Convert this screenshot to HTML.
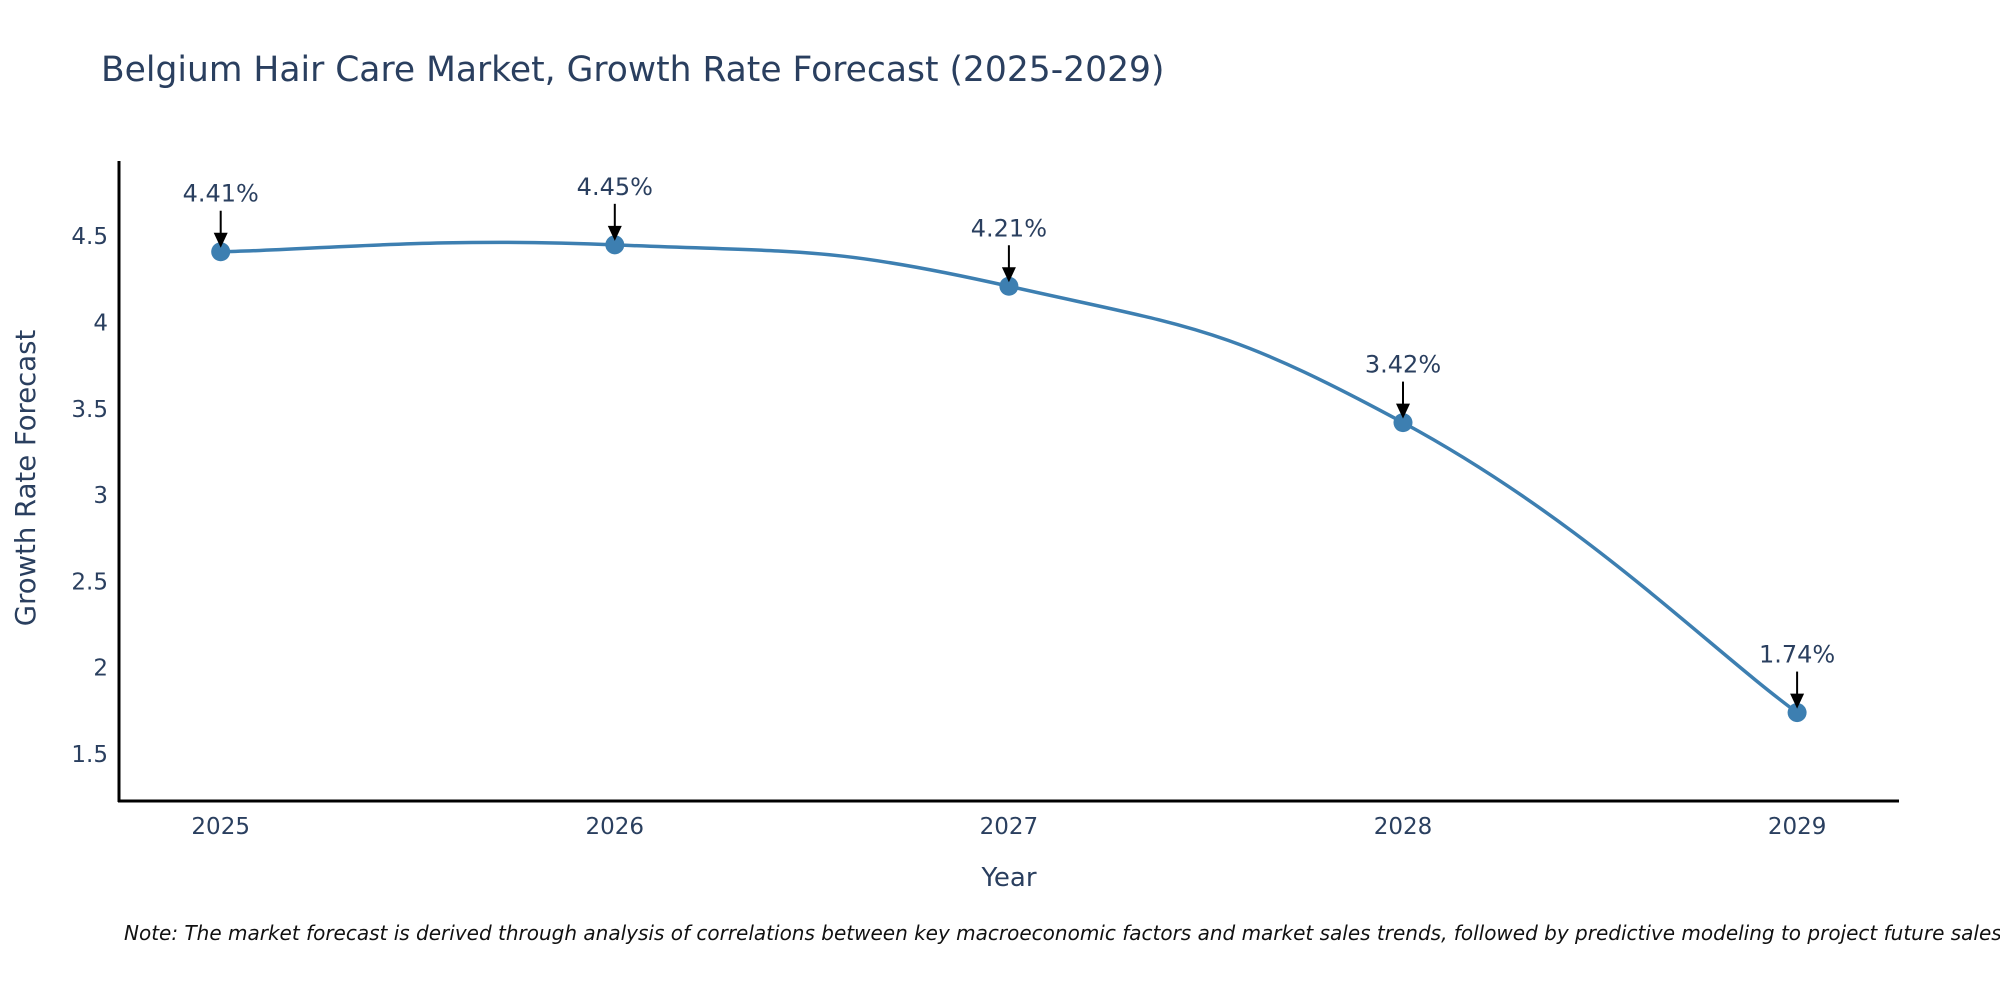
<!DOCTYPE html>
<html><head><meta charset="utf-8"><style>
html,body{margin:0;padding:0;background:#fff;}
svg{display:block;font-family:"DejaVu Sans","Liberation Sans",sans-serif;}
</style></head><body>
<svg id="chart" width="2000" height="1000" viewBox="0 0 2000 1000">
<text x="101" y="81" font-size="34.5" fill="#2a3f5f">Belgium Hair Care Market, Growth Rate Forecast (2025-2029)</text>
<g id="yticks"></g><g id="xticks"></g>
<line x1="119" y1="161" x2="119" y2="802" stroke="#000" stroke-width="3"/>
<line x1="118" y1="801" x2="1899" y2="801" stroke="#000" stroke-width="3"/>
<text transform="translate(35,478) rotate(-90)" text-anchor="middle" font-size="27.5" fill="#2a3f5f">Growth Rate Forecast</text>
<text x="1009" y="886" text-anchor="middle" font-size="26" fill="#2a3f5f">Year</text>
<g id="series"></g>
<text x="124" y="940" font-size="20" font-style="italic" fill="#111">Note: The market forecast is derived through analysis of correlations between key macroeconomic factors and market sales trends, followed by predictive modeling to project future sales.</text>
</svg>
<script>
const categories = ["2025","2026","2027","2028","2029"];
const values = [4.41, 4.45, 4.21, 3.42, 1.74];
const labels = ["4.41%","4.45%","4.21%","3.42%","1.74%"];
const yTickValues = [1.5, 2, 2.5, 3, 3.5, 4, 4.5];
const yTickLabels = ["1.5","2","2.5","3","3.5","4","4.5"];

const NS = "http://www.w3.org/2000/svg";
function xScale(i){ return 220.7 + i * 394.1; }
function yScale(v){ return 754 - (v - 1.5) * 172.6; }
function mk(tag, attrs, parent){ const e = document.createElementNS(NS, tag); for (const k in attrs) e.setAttribute(k, attrs[k]); parent.appendChild(e); return e; }

const yt = document.getElementById('yticks');
yTickValues.forEach((v, i) => {
  const t = mk('text', {x: 108, y: yScale(v) + 8, 'text-anchor': 'end', 'font-size': 23, fill: '#2a3f5f'}, yt);
  
  
  t.textContent = yTickLabels[i];
});
const xt = document.getElementById('xticks');
categories.forEach((c, i) => {
  const t = mk('text', {x: xScale(i), y: 834, 'text-anchor': 'middle', 'font-size': 23, fill: '#2a3f5f'}, xt);
  
  
  t.textContent = c;
});

const g = document.getElementById('series');
const pts = values.map((v, i) => [xScale(i), yScale(v)]);
let d = "M" + pts[0][0] + "," + pts[0][1];
const s = 0.23;
for (let i = 0; i < pts.length - 1; i++) {
  const p0 = pts[Math.max(i-1,0)], p1 = pts[i], p2 = pts[i+1], p3 = pts[Math.min(i+2, pts.length-1)];
  const c1 = [p1[0] + (p2[0]-p0[0])*s, p1[1] + (p2[1]-p0[1])*s];
  const c2 = [p2[0] - (p3[0]-p1[0])*s, p2[1] - (p3[1]-p1[1])*s];
  d += " C" + c1 + " " + c2 + " " + p2;
}
const line = mk('path', {d: d, fill: 'none', stroke: '#3d7fb1', 'stroke-width': 3.5}, g);



pts.forEach((p, i) => {
  const c = mk('circle', {cx: p[0], cy: p[1], r: 9.5, fill: '#3d7fb1'}, g);
  
  
  const a = mk('line', {x1: p[0], y1: p[1] - 41, x2: p[0], y2: p[1] - 14, stroke: '#000', 'stroke-width': 2}, g);
  
  
  const h = mk('polygon', {points: (p[0]-7)+","+(p[1]-19)+" "+(p[0]+7)+","+(p[1]-19)+" "+p[0]+","+(p[1]-4), fill: '#000'}, g);
  
  
  const t = mk('text', {x: p[0], y: p[1] - 50, 'text-anchor': 'middle', 'font-size': 24, fill: '#2a3f5f'}, g);
  
  
  t.textContent = labels[i];
});
</script>
</body></html>
